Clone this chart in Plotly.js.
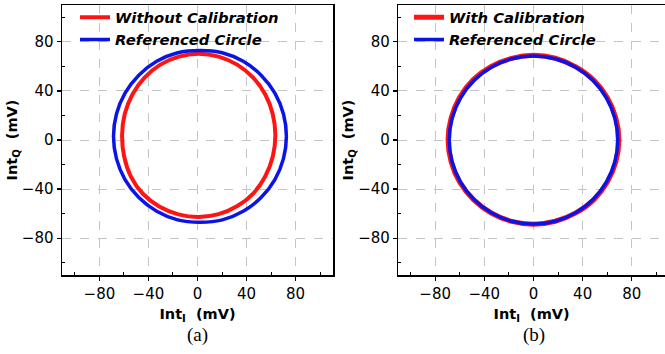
<!DOCTYPE html>
<html><head><meta charset="utf-8">
<script src="https://cdn.plot.ly/plotly-3.0.1.min.js"></script>
<style>html,body{margin:0;padding:0;background:#fff}#chart{width:665px;height:354px}</style>
</head><body><div id="chart"></div>
<script>
// (a) Without calibration: measured IQ trace (red) and referenced circle (blue)
const rawI = [63.5, 61.4, 55.3, 45.4, 32.3, 17.2, 1, -15.2, -30.3, -43.2, -53.1, -59.4, -61.5, -59.8, -54.3, -44.6, -31.2, -15.6, 1, 17.2, 32.5, 45.6, 55.3, 61.4, 63.5];
const rawQ = [3.8, 21.0, 37.1, 50.8, 61.4, 68.0, 70.3, 68.0, 61.4, 50.8, 37.1, 21.0, 3.8, -13.6, -29.8, -43.8, -54.2, -60.6, -62.7, -60.4, -53.8, -43.4, -29.5, -13.4, 3.8];
const refAI = [72.5, 70.1, 63.1, 51.85, 37.25, 20.2, 2, -16.2, -33.25, -47.85, -59.1, -66.1, -68.5, -66.1, -59.1, -47.85, -33.25, -16.2, 2, 20.2, 37.25, 51.85, 63.1, 70.1, 72.5];
const refAQ = [3, 21.2, 38.25, 52.85, 64.1, 71.1, 73, 71.1, 64.1, 52.85, 38.25, 21.2, 3, -15.2, -32.25, -46.85, -58.1, -65.1, -67, -65.1, -58.1, -46.85, -32.25, -15.2, 3];
// (b) With calibration
const calI = [69.5, 67, 60, 49, 34.5, 17.8, 0, -17.9, -34.7, -49.2, -60.2, -67, -69.5, -67, -60, -48.8, -34.4, -17.7, 0, 17.8, 34.5, 49, 60, 67, 69.5];
const calQ = [0, 18, 34.6, 48.9, 59.6, 66.6, 69, 66.5, 59.8, 49, 34.6, 18, 0.5, -17.7, -34.5, -48.6, -59.5, -66.3, -68.6, -66.2, -59.4, -48.8, -34.5, -17.8, 0];
const refBI = [68.5, 66.2, 59.3, 48.4, 34.25, 17.7, 0, -17.7, -34.25, -48.4, -59.3, -66.2, -68.5, -66.2, -59.3, -48.4, -34.25, -17.7, 0, 17.7, 34.25, 48.4, 59.3, 66.2, 68.5];
const refBQ = [0, 17.7, 34.25, 48.4, 59.3, 66.2, 68.5, 66.2, 59.3, 48.4, 34.25, 17.7, 0, -17.7, -34.25, -48.4, -59.3, -66.2, -68.5, -66.2, -59.3, -48.4, -34.25, -17.7, 0];

const names = ['Without Calibration', 'Referenced Circle', 'With Calibration'];
const panelLabels = ['(a)', '(b)'];
const majorTicks = [-80, -40, 0, 40, 80];

const RED = '#ff1414', BLUE = '#0a14e6';
const FONT = 'DejaVu Sans';

const traces = [
  {x: rawI, y: rawQ, xaxis: 'x', yaxis: 'y', mode: 'lines', name: names[0], line: {color: RED, width: 4, shape: 'spline', smoothing: 1.3}, legend: 'legend'},
  {x: refAI, y: refAQ, xaxis: 'x', yaxis: 'y', mode: 'lines', name: names[1], line: {color: BLUE, width: 3.5, shape: 'spline', smoothing: 1.3}, legend: 'legend'},
  {x: calI, y: calQ, xaxis: 'x2', yaxis: 'y2', mode: 'lines', name: names[2], line: {color: RED, width: 5, shape: 'spline', smoothing: 1.3}, legend: 'legend2'},
  {x: refBI, y: refBQ, xaxis: 'x2', yaxis: 'y2', mode: 'lines', name: names[1], line: {color: BLUE, width: 3.5, shape: 'spline', smoothing: 1.3}, legend: 'legend2'}
];

function ax(extra) {
  return Object.assign({
    tickmode: 'array', tickvals: majorTicks,
    showgrid: true, gridcolor: '#c4c4c4', griddash: 'dash', gridwidth: 1,
    zeroline: false, showline: true, linecolor: '#000', linewidth: 1.5,
    ticks: 'outside', ticklen: 4, tickwidth: 1.2, tickcolor: '#000',
    minor: {tickmode: 'linear', tick0: -100, dtick: 40, ticks: 'inside', ticklen: 3, tickwidth: 1, tickcolor: '#000', showgrid: false},
    tickfont: {family: FONT, size: 15, color: '#000'},
    fixedrange: true
  }, extra);
}
const titleFont = {family: FONT, size: 14.5, color: '#000', weight: 'bold'};
const xTitle = {text: 'Int<sub>I</sub>\u00a0 (mV)', font: titleFont, standoff: 7};
const yTitle = {text: 'Int<sub>Q</sub>\u00a0 (mV)', font: titleFont, standoff: 1};
const legFont = {family: FONT, size: 14.8, color: '#000', weight: 'bold', style: 'italic'};

const layout = {
  width: 665, height: 354,
  margin: {l: 0, r: 0, t: 5, b: 79},
  paper_bgcolor: '#fff', plot_bgcolor: '#fff',
  showlegend: true,
  xaxis: ax({domain: [62/665, 333/665], range: [-110.5, 110.5], anchor: 'y', mirror: true, title: xTitle}),
  yaxis: ax({domain: [0, 1], range: [-110, 110], anchor: 'x', mirror: true, title: yTitle}),
  xaxis2: ax({domain: [398.3/665, 1], range: [-110, 107], anchor: 'y2', mirror: true, title: xTitle}),
  yaxis2: ax({domain: [0, 1], range: [-110, 110], anchor: 'x2', mirror: false, title: yTitle}),
  legend: {x: 75/665, y: 1.014, xanchor: 'left', yanchor: 'top', bgcolor: 'rgba(0,0,0,0)', borderwidth: 0, font: legFont, itemwidth: 30, tracegroupgap: 0},
  legend2: {x: 409/665, y: 1.014, xanchor: 'left', yanchor: 'top', bgcolor: 'rgba(0,0,0,0)', borderwidth: 0, font: legFont, itemwidth: 30, tracegroupgap: 0},
  annotations: [
    {text: panelLabels[0], xref: 'paper', yref: 'paper', x: 197.7/665, y: -0.222, xanchor: 'center', yanchor: 'middle', showarrow: false, font: {family: 'Liberation Serif', size: 19, color: '#000'}},
    {text: panelLabels[1], xref: 'paper', yref: 'paper', x: 533.7/665, y: -0.222, xanchor: 'center', yanchor: 'middle', showarrow: false, font: {family: 'Liberation Serif', size: 19, color: '#000'}}
  ]
};

Plotly.newPlot('chart', traces, layout, {displayModeBar: false, staticPlot: true});
</script>
</body></html>
